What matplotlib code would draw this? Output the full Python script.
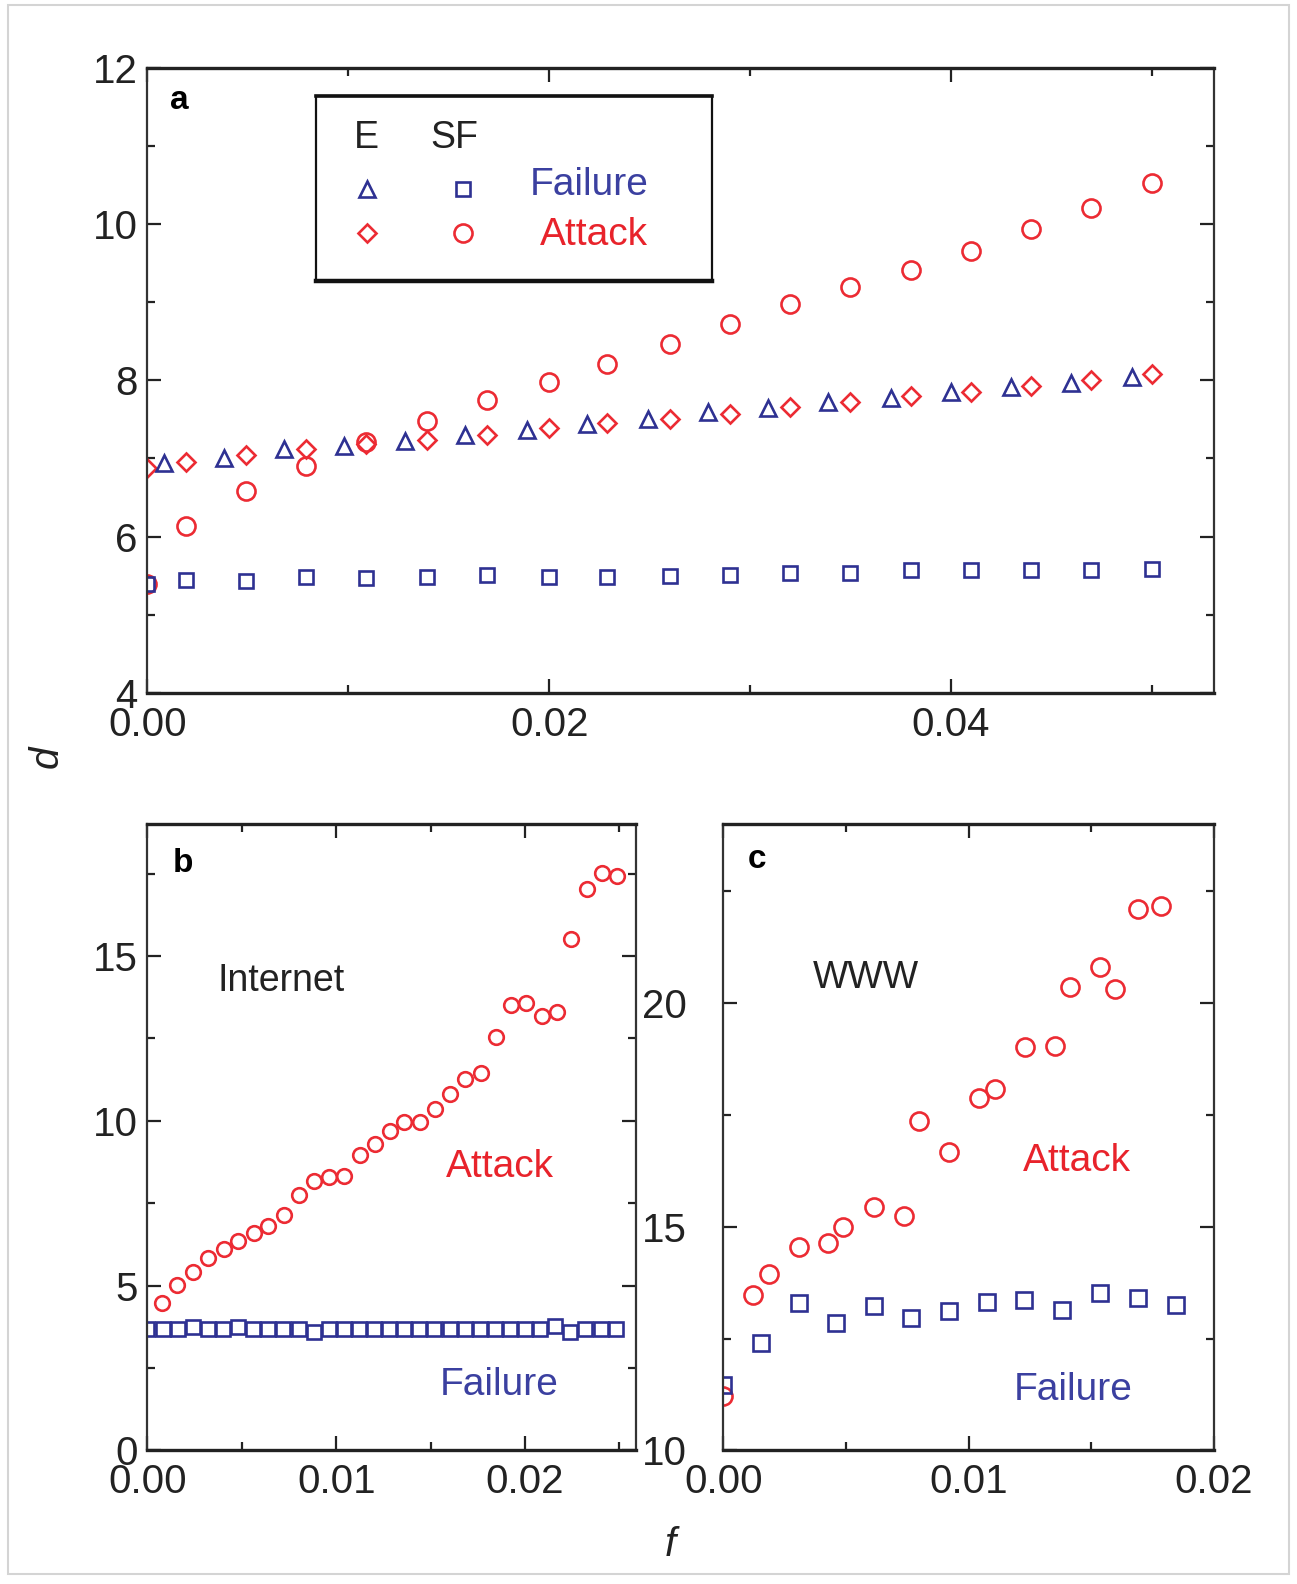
import matplotlib
matplotlib.use("Agg")
import matplotlib.pyplot as plt
from matplotlib.patches import Rectangle
from matplotlib.ticker import MultipleLocator, FormatStrFormatter

plt.rcParams['font.family'] = ['Liberation Sans', 'DejaVu Sans']

RED = '#ec2b33'
BLUE = '#2e3192'
TXT_RED = '#e8232b'
TXT_BLUE = '#3b40a0'

# ---- panel a: exponential (E) vs scale-free (SF) network ----
a_x = [0.0, 0.0019, 0.0049, 0.0079, 0.0109, 0.0139, 0.0169, 0.0200, 0.0229,
       0.0260, 0.0290, 0.0320, 0.0350, 0.0380, 0.0410, 0.0440, 0.0470, 0.0500]
a_sf_attack = [5.40, 6.13, 6.58, 6.91, 7.21, 7.48, 7.75, 7.98, 8.21,
               8.47, 8.72, 8.97, 9.20, 9.41, 9.65, 9.93, 10.21, 10.52]
a_e_attack = [6.88, 6.95, 7.05, 7.12, 7.18, 7.24, 7.30, 7.39, 7.45,
              7.51, 7.57, 7.66, 7.72, 7.80, 7.85, 7.93, 8.00, 8.08]
a_sf_failure = [5.40, 5.44, 5.43, 5.49, 5.47, 5.49, 5.51, 5.49, 5.49,
                5.50, 5.51, 5.53, 5.54, 5.57, 5.57, 5.57, 5.57, 5.59]
a_e_fail_x = [0.0008, 0.0038, 0.0068, 0.0098, 0.0128, 0.0158, 0.0189, 0.0219, 0.0249,
              0.0279, 0.0309, 0.0339, 0.0370, 0.0400, 0.0430, 0.0460, 0.0490]
a_e_failure = [6.94, 7.00, 7.12, 7.16, 7.23, 7.30, 7.36, 7.44, 7.51,
               7.60, 7.64, 7.72, 7.78, 7.85, 7.91, 7.97, 8.04]

# ---- panel b: Internet ----
b_fail_x = [0.0000, 0.0008, 0.0016, 0.0024, 0.0032, 0.0040, 0.0048, 0.0056,
            0.0064, 0.0072, 0.0080, 0.0088, 0.0096, 0.0104, 0.0112, 0.0120,
            0.0128, 0.0136, 0.0144, 0.0152, 0.0160, 0.0168, 0.0176, 0.0184,
            0.0192, 0.0200, 0.0208, 0.0216, 0.0224, 0.0232, 0.0240, 0.0248]
b_failure = [3.70, 3.69, 3.69, 3.75, 3.69, 3.69, 3.75, 3.69, 3.69, 3.69, 3.69,
             3.60, 3.69, 3.69, 3.69, 3.69, 3.69, 3.69, 3.69, 3.69, 3.69, 3.69,
             3.69, 3.69, 3.69, 3.69, 3.69, 3.77, 3.60, 3.69, 3.69, 3.69]
b_att_x = [0.00077, 0.00158, 0.00241, 0.0032, 0.00403, 0.00482, 0.00563, 0.0064,
           0.00721, 0.00804, 0.00883, 0.00962, 0.01041, 0.01124, 0.01205, 0.01284,
           0.01361, 0.01446, 0.01525, 0.01604, 0.01683, 0.01766, 0.01847, 0.01925,
           0.02005, 0.02088, 0.02167, 0.02246, 0.02329, 0.02408, 0.02487]
b_attack = [4.48, 5.02, 5.41, 5.85, 6.11, 6.36, 6.59, 6.81, 7.13, 7.76, 8.18,
            8.30, 8.33, 8.97, 9.31, 9.69, 9.96, 9.96, 10.37, 10.81, 11.26, 11.45,
            12.53, 13.52, 13.58, 13.17, 13.29, 15.52, 17.02, 17.53, 17.43]

# ---- panel c: WWW ----
c_att_x = [0.0, 0.00122, 0.00185, 0.00307, 0.00429, 0.00489, 0.00614, 0.00738,
           0.00796, 0.0092, 0.01044, 0.01106, 0.0123, 0.01352, 0.01413, 0.01537,
           0.01598, 0.01689, 0.01783]
c_attack = [11.21, 13.48, 13.94, 14.54, 14.63, 14.99, 15.44, 15.23, 17.37, 16.68,
            17.88, 18.07, 19.01, 19.04, 20.37, 20.80, 20.31, 22.10, 22.17]
c_fail_x = [0.0, 0.00154, 0.00307, 0.00459, 0.00613, 0.00765, 0.00921, 0.01073,
            0.01227, 0.01379, 0.01537, 0.01689, 0.01845]
c_failure = [11.46, 12.40, 13.30, 12.86, 13.22, 12.97, 13.11, 13.31, 13.37,
             13.15, 13.51, 13.41, 13.25]


def style_axes(ax, xmaj, xmin, ymaj, ymin, xfmt, ypad=7):
    ax.xaxis.set_major_locator(MultipleLocator(xmaj))
    ax.xaxis.set_minor_locator(MultipleLocator(xmin))
    ax.yaxis.set_major_locator(MultipleLocator(ymaj))
    ax.yaxis.set_minor_locator(MultipleLocator(ymin))
    ax.xaxis.set_major_formatter(FormatStrFormatter(xfmt))
    ax.yaxis.set_major_formatter(FormatStrFormatter('%d'))
    ax.tick_params(which='both', direction='in', top=True, right=True,
                   width=1.6, colors='#222222', labelsize=29)
    ax.tick_params(which='major', length=10)
    ax.tick_params(which='minor', length=6)
    ax.tick_params(axis='x', pad=9)
    ax.tick_params(axis='y', pad=ypad)
    for side in ['top', 'bottom']:
        ax.spines[side].set_linewidth(2.4)
        ax.spines[side].set_color('#222222')
    for side in ['left', 'right']:
        ax.spines[side].set_linewidth(1.6)
        ax.spines[side].set_color('#333333')


fig = plt.figure(figsize=(12.97, 15.84), dpi=100)

# light frame around the whole picture
fig.patches.append(Rectangle((0.006, 0.006), 0.988, 0.991, transform=fig.transFigure,
                             fill=False, edgecolor='#d4d4d4', linewidth=1.5))

mk = dict(linestyle='None', markerfacecolor='none', markeredgewidth=1.9)

# ---------- panel a ----------
ax_a = fig.add_axes([0.1137, 0.5625, 0.8223, 0.3948])
ax_a.plot(a_x, a_sf_attack, marker='o', markersize=13, markeredgecolor=RED, **mk)
ax_a.plot(a_x, a_e_attack, marker='D', markersize=9.5, markeredgecolor=RED, **mk)
ax_a.plot(a_x, a_sf_failure, marker='s', markersize=10, markeredgecolor=BLUE, **mk)
ax_a.plot(a_e_fail_x, a_e_failure, marker='^', markersize=12, markeredgecolor=BLUE, **mk)
ax_a.set_xlim(0, 0.0531)
ax_a.set_ylim(4, 12)
style_axes(ax_a, 0.02, 0.01, 2, 1, '%.2f')
ax_a.text(0.030, 0.947, 'a', transform=ax_a.transAxes, fontsize=24,
          fontweight='bold', ha='center', va='center')

# hand-made legend box
ax_a.add_patch(Rectangle((0.1582, 0.6592), 0.3712, 0.2955, transform=ax_a.transAxes,
                         fill=False, edgecolor='#111111', linewidth=1.6, zorder=5))
ax_a.plot([0.1582, 0.5294], [0.6592, 0.6592], transform=ax_a.transAxes,
          color='#111111', linewidth=3.2, zorder=5, solid_capstyle='projecting')
ax_a.plot([0.1582, 0.5294], [0.9547, 0.9547], transform=ax_a.transAxes,
          color='#111111', linewidth=2.6, zorder=5, solid_capstyle='projecting')
ax_a.text(0.2055, 0.887, 'E', transform=ax_a.transAxes, fontsize=27,
          ha='center', va='center', color='#222222')
ax_a.text(0.2879, 0.887, 'SF', transform=ax_a.transAxes, fontsize=27,
          ha='center', va='center', color='#222222')
ax_a.plot([0.2055], [0.806], transform=ax_a.transAxes, marker='^', markersize=12,
          markeredgecolor=BLUE, **mk)
ax_a.plot([0.2955], [0.806], transform=ax_a.transAxes, marker='s', markersize=10,
          markeredgecolor=BLUE, **mk)
ax_a.plot([0.2055], [0.735], transform=ax_a.transAxes, marker='D', markersize=9.5,
          markeredgecolor=RED, **mk)
ax_a.plot([0.2955], [0.735], transform=ax_a.transAxes, marker='o', markersize=13,
          markeredgecolor=RED, **mk)
ax_a.text(0.4139, 0.8127, 'Failure', transform=ax_a.transAxes, fontsize=28,
          ha='center', va='center', color=TXT_BLUE)
ax_a.text(0.4187, 0.7318, 'Attack', transform=ax_a.transAxes, fontsize=28,
          ha='center', va='center', color=TXT_RED)

# ---------- panel b ----------
ax_b = fig.add_axes([0.1137, 0.0843, 0.3770, 0.3954])
ax_b.plot(b_att_x, b_attack, marker='o', markersize=10.5, markeredgecolor=RED, **mk)
ax_b.plot(b_fail_x, b_failure, marker='s', markersize=9.5, markeredgecolor=BLUE, **mk)
ax_b.set_xlim(0, 0.0259)
ax_b.set_ylim(0, 19)
style_axes(ax_b, 0.01, 0.005, 5, 2.5, '%.2f')
ax_b.text(0.0019, 17.8, 'b', fontsize=24, fontweight='bold', ha='center', va='center')
ax_b.text(0.00706, 14.25, 'Internet', fontsize=27, ha='center', va='center', color='#222222')
ax_b.text(0.01868, 8.60, 'Attack', fontsize=28, ha='center', va='center', color=TXT_RED)
ax_b.text(0.01863, 1.98, 'Failure', fontsize=28, ha='center', va='center', color=TXT_BLUE)

# ---------- panel c ----------
ax_c = fig.add_axes([0.5576, 0.0843, 0.3784, 0.3954])
ax_c.plot(c_att_x, c_attack, marker='o', markersize=13, markeredgecolor=RED, **mk)
ax_c.plot(c_fail_x, c_failure, marker='s', markersize=11, markeredgecolor=BLUE, **mk)
ax_c.set_xlim(0, 0.02)
ax_c.set_ylim(10, 24)
style_axes(ax_c, 0.01, 0.005, 5, 2.5, '%.2f', ypad=26)
ax_c.text(0.00137, 23.2, 'c', fontsize=24, fontweight='bold', ha='center', va='center')
ax_c.text(0.00582, 20.55, 'WWW', fontsize=27, ha='center', va='center', color='#222222')
ax_c.text(0.01442, 16.48, 'Attack', fontsize=28, ha='center', va='center', color=TXT_RED)
ax_c.text(0.01426, 11.35, 'Failure', fontsize=28, ha='center', va='center', color=TXT_BLUE)

# shared axis labels
fig.text(47 / 1297, 1 - 757 / 1584, 'd', fontsize=29, fontstyle='italic',
         rotation=90, ha='center', va='center', color='#222222')
fig.text(670 / 1297, 1 - 1545 / 1584, 'f', fontsize=29, fontstyle='italic',
         ha='center', va='center', color='#222222')

fig.savefig('out.png', dpi=100)
